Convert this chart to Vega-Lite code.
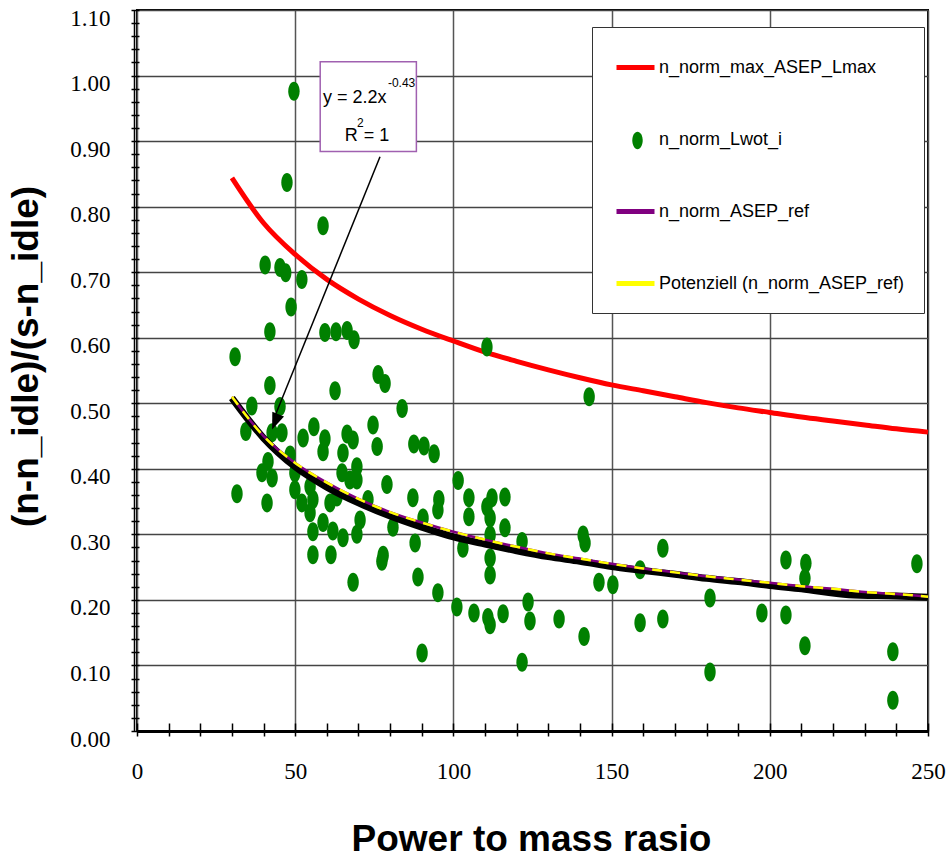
{
  "$schema": "https://vega.github.io/schema/vega-lite/v6.json",
  "width": 791,
  "height": 721,
  "autosize": {"type": "none"},
  "padding": {"left": 137, "top": 10, "right": 18, "bottom": 128},
  "background": "white",
  "config": {"view": {"stroke": "black", "strokeWidth": 2}, "font": "Liberation Sans"},
  "datasets": {
    "red": [
      {"x": 30, "y": 0.844, "series": "n_norm_max_ASEP_Lmax"},
      {"x": 40, "y": 0.775, "series": "n_norm_max_ASEP_Lmax"},
      {"x": 50, "y": 0.727, "series": "n_norm_max_ASEP_Lmax"},
      {"x": 60, "y": 0.689, "series": "n_norm_max_ASEP_Lmax"},
      {"x": 70, "y": 0.659, "series": "n_norm_max_ASEP_Lmax"},
      {"x": 80, "y": 0.634, "series": "n_norm_max_ASEP_Lmax"},
      {"x": 90, "y": 0.613, "series": "n_norm_max_ASEP_Lmax"},
      {"x": 100, "y": 0.595, "series": "n_norm_max_ASEP_Lmax"},
      {"x": 110, "y": 0.578, "series": "n_norm_max_ASEP_Lmax"},
      {"x": 120, "y": 0.564, "series": "n_norm_max_ASEP_Lmax"},
      {"x": 130, "y": 0.551, "series": "n_norm_max_ASEP_Lmax"},
      {"x": 140, "y": 0.539, "series": "n_norm_max_ASEP_Lmax"},
      {"x": 150, "y": 0.528, "series": "n_norm_max_ASEP_Lmax"},
      {"x": 160, "y": 0.519, "series": "n_norm_max_ASEP_Lmax"},
      {"x": 170, "y": 0.510, "series": "n_norm_max_ASEP_Lmax"},
      {"x": 180, "y": 0.501, "series": "n_norm_max_ASEP_Lmax"},
      {"x": 190, "y": 0.493, "series": "n_norm_max_ASEP_Lmax"},
      {"x": 200, "y": 0.486, "series": "n_norm_max_ASEP_Lmax"},
      {"x": 210, "y": 0.479, "series": "n_norm_max_ASEP_Lmax"},
      {"x": 220, "y": 0.473, "series": "n_norm_max_ASEP_Lmax"},
      {"x": 230, "y": 0.467, "series": "n_norm_max_ASEP_Lmax"},
      {"x": 240, "y": 0.461, "series": "n_norm_max_ASEP_Lmax"},
      {"x": 250, "y": 0.456, "series": "n_norm_max_ASEP_Lmax"}
    ],
    "points": [
      {"x": 49.6, "y": 0.976, "series": "n_norm_Lwot_i"},
      {"x": 47.4, "y": 0.837, "series": "n_norm_Lwot_i"},
      {"x": 58.8, "y": 0.771, "series": "n_norm_Lwot_i"},
      {"x": 40.5, "y": 0.711, "series": "n_norm_Lwot_i"},
      {"x": 45.2, "y": 0.707, "series": "n_norm_Lwot_i"},
      {"x": 47.0, "y": 0.699, "series": "n_norm_Lwot_i"},
      {"x": 52.1, "y": 0.689, "series": "n_norm_Lwot_i"},
      {"x": 48.7, "y": 0.647, "series": "n_norm_Lwot_i"},
      {"x": 42.0, "y": 0.609, "series": "n_norm_Lwot_i"},
      {"x": 59.4, "y": 0.608, "series": "n_norm_Lwot_i"},
      {"x": 62.9, "y": 0.609, "series": "n_norm_Lwot_i"},
      {"x": 66.4, "y": 0.611, "series": "n_norm_Lwot_i"},
      {"x": 68.6, "y": 0.597, "series": "n_norm_Lwot_i"},
      {"x": 31.0, "y": 0.571, "series": "n_norm_Lwot_i"},
      {"x": 76.2, "y": 0.544, "series": "n_norm_Lwot_i"},
      {"x": 78.4, "y": 0.530, "series": "n_norm_Lwot_i"},
      {"x": 42.0, "y": 0.527, "series": "n_norm_Lwot_i"},
      {"x": 62.6, "y": 0.519, "series": "n_norm_Lwot_i"},
      {"x": 36.3, "y": 0.496, "series": "n_norm_Lwot_i"},
      {"x": 45.2, "y": 0.495, "series": "n_norm_Lwot_i"},
      {"x": 83.8, "y": 0.492, "series": "n_norm_Lwot_i"},
      {"x": 34.4, "y": 0.457, "series": "n_norm_Lwot_i"},
      {"x": 42.7, "y": 0.455, "series": "n_norm_Lwot_i"},
      {"x": 45.8, "y": 0.455, "series": "n_norm_Lwot_i"},
      {"x": 52.5, "y": 0.447, "series": "n_norm_Lwot_i"},
      {"x": 55.9, "y": 0.464, "series": "n_norm_Lwot_i"},
      {"x": 59.4, "y": 0.446, "series": "n_norm_Lwot_i"},
      {"x": 66.4, "y": 0.453, "series": "n_norm_Lwot_i"},
      {"x": 68.3, "y": 0.444, "series": "n_norm_Lwot_i"},
      {"x": 74.6, "y": 0.467, "series": "n_norm_Lwot_i"},
      {"x": 75.9, "y": 0.434, "series": "n_norm_Lwot_i"},
      {"x": 58.8, "y": 0.426, "series": "n_norm_Lwot_i"},
      {"x": 65.1, "y": 0.424, "series": "n_norm_Lwot_i"},
      {"x": 41.4, "y": 0.411, "series": "n_norm_Lwot_i"},
      {"x": 39.5, "y": 0.394, "series": "n_norm_Lwot_i"},
      {"x": 42.7, "y": 0.386, "series": "n_norm_Lwot_i"},
      {"x": 48.4, "y": 0.421, "series": "n_norm_Lwot_i"},
      {"x": 49.9, "y": 0.394, "series": "n_norm_Lwot_i"},
      {"x": 69.5, "y": 0.403, "series": "n_norm_Lwot_i"},
      {"x": 64.8, "y": 0.394, "series": "n_norm_Lwot_i"},
      {"x": 67.3, "y": 0.383, "series": "n_norm_Lwot_i"},
      {"x": 69.5, "y": 0.383, "series": "n_norm_Lwot_i"},
      {"x": 79.0, "y": 0.376, "series": "n_norm_Lwot_i"},
      {"x": 31.6, "y": 0.362, "series": "n_norm_Lwot_i"},
      {"x": 41.1, "y": 0.348, "series": "n_norm_Lwot_i"},
      {"x": 49.9, "y": 0.368, "series": "n_norm_Lwot_i"},
      {"x": 54.7, "y": 0.373, "series": "n_norm_Lwot_i"},
      {"x": 52.1, "y": 0.348, "series": "n_norm_Lwot_i"},
      {"x": 55.6, "y": 0.353, "series": "n_norm_Lwot_i"},
      {"x": 61.0, "y": 0.348, "series": "n_norm_Lwot_i"},
      {"x": 63.2, "y": 0.357, "series": "n_norm_Lwot_i"},
      {"x": 73.0, "y": 0.353, "series": "n_norm_Lwot_i"},
      {"x": 54.7, "y": 0.333, "series": "n_norm_Lwot_i"},
      {"x": 58.8, "y": 0.318, "series": "n_norm_Lwot_i"},
      {"x": 70.5, "y": 0.322, "series": "n_norm_Lwot_i"},
      {"x": 80.9, "y": 0.311, "series": "n_norm_Lwot_i"},
      {"x": 55.6, "y": 0.304, "series": "n_norm_Lwot_i"},
      {"x": 61.9, "y": 0.305, "series": "n_norm_Lwot_i"},
      {"x": 65.1, "y": 0.295, "series": "n_norm_Lwot_i"},
      {"x": 69.5, "y": 0.300, "series": "n_norm_Lwot_i"},
      {"x": 55.6, "y": 0.269, "series": "n_norm_Lwot_i"},
      {"x": 61.3, "y": 0.269, "series": "n_norm_Lwot_i"},
      {"x": 68.3, "y": 0.227, "series": "n_norm_Lwot_i"},
      {"x": 77.4, "y": 0.259, "series": "n_norm_Lwot_i"},
      {"x": 77.8, "y": 0.268, "series": "n_norm_Lwot_i"},
      {"x": 110.6, "y": 0.586, "series": "n_norm_Lwot_i"},
      {"x": 142.9, "y": 0.510, "series": "n_norm_Lwot_i"},
      {"x": 87.5, "y": 0.438, "series": "n_norm_Lwot_i"},
      {"x": 90.7, "y": 0.435, "series": "n_norm_Lwot_i"},
      {"x": 93.9, "y": 0.423, "series": "n_norm_Lwot_i"},
      {"x": 101.5, "y": 0.382, "series": "n_norm_Lwot_i"},
      {"x": 87.2, "y": 0.356, "series": "n_norm_Lwot_i"},
      {"x": 95.4, "y": 0.353, "series": "n_norm_Lwot_i"},
      {"x": 95.1, "y": 0.337, "series": "n_norm_Lwot_i"},
      {"x": 104.9, "y": 0.356, "series": "n_norm_Lwot_i"},
      {"x": 104.9, "y": 0.327, "series": "n_norm_Lwot_i"},
      {"x": 110.6, "y": 0.342, "series": "n_norm_Lwot_i"},
      {"x": 112.2, "y": 0.356, "series": "n_norm_Lwot_i"},
      {"x": 116.3, "y": 0.357, "series": "n_norm_Lwot_i"},
      {"x": 111.6, "y": 0.325, "series": "n_norm_Lwot_i"},
      {"x": 116.3, "y": 0.310, "series": "n_norm_Lwot_i"},
      {"x": 90.4, "y": 0.325, "series": "n_norm_Lwot_i"},
      {"x": 87.9, "y": 0.287, "series": "n_norm_Lwot_i"},
      {"x": 103.0, "y": 0.279, "series": "n_norm_Lwot_i"},
      {"x": 111.6, "y": 0.299, "series": "n_norm_Lwot_i"},
      {"x": 121.7, "y": 0.289, "series": "n_norm_Lwot_i"},
      {"x": 141.0, "y": 0.299, "series": "n_norm_Lwot_i"},
      {"x": 141.6, "y": 0.287, "series": "n_norm_Lwot_i"},
      {"x": 111.6, "y": 0.264, "series": "n_norm_Lwot_i"},
      {"x": 111.6, "y": 0.238, "series": "n_norm_Lwot_i"},
      {"x": 88.8, "y": 0.235, "series": "n_norm_Lwot_i"},
      {"x": 95.1, "y": 0.211, "series": "n_norm_Lwot_i"},
      {"x": 101.1, "y": 0.189, "series": "n_norm_Lwot_i"},
      {"x": 106.5, "y": 0.180, "series": "n_norm_Lwot_i"},
      {"x": 110.9, "y": 0.173, "series": "n_norm_Lwot_i"},
      {"x": 111.6, "y": 0.162, "series": "n_norm_Lwot_i"},
      {"x": 115.7, "y": 0.179, "series": "n_norm_Lwot_i"},
      {"x": 123.6, "y": 0.197, "series": "n_norm_Lwot_i"},
      {"x": 124.2, "y": 0.168, "series": "n_norm_Lwot_i"},
      {"x": 133.4, "y": 0.171, "series": "n_norm_Lwot_i"},
      {"x": 141.3, "y": 0.144, "series": "n_norm_Lwot_i"},
      {"x": 146.0, "y": 0.227, "series": "n_norm_Lwot_i"},
      {"x": 90.1, "y": 0.119, "series": "n_norm_Lwot_i"},
      {"x": 121.7, "y": 0.105, "series": "n_norm_Lwot_i"},
      {"x": 150.4, "y": 0.223, "series": "n_norm_Lwot_i"},
      {"x": 159.0, "y": 0.246, "series": "n_norm_Lwot_i"},
      {"x": 166.2, "y": 0.279, "series": "n_norm_Lwot_i"},
      {"x": 159.0, "y": 0.165, "series": "n_norm_Lwot_i"},
      {"x": 166.2, "y": 0.171, "series": "n_norm_Lwot_i"},
      {"x": 181.1, "y": 0.203, "series": "n_norm_Lwot_i"},
      {"x": 181.1, "y": 0.090, "series": "n_norm_Lwot_i"},
      {"x": 197.5, "y": 0.180, "series": "n_norm_Lwot_i"},
      {"x": 205.1, "y": 0.261, "series": "n_norm_Lwot_i"},
      {"x": 205.1, "y": 0.177, "series": "n_norm_Lwot_i"},
      {"x": 211.4, "y": 0.256, "series": "n_norm_Lwot_i"},
      {"x": 211.1, "y": 0.233, "series": "n_norm_Lwot_i"},
      {"x": 211.1, "y": 0.130, "series": "n_norm_Lwot_i"},
      {"x": 238.9, "y": 0.121, "series": "n_norm_Lwot_i"},
      {"x": 246.5, "y": 0.255, "series": "n_norm_Lwot_i"},
      {"x": 238.9, "y": 0.047, "series": "n_norm_Lwot_i"}
    ],
    "black": [
      {"x": 30, "y": 0.508}, {"x": 40, "y": 0.447}, {"x": 50, "y": 0.403},
      {"x": 60, "y": 0.372}, {"x": 70, "y": 0.348}, {"x": 80, "y": 0.328},
      {"x": 90, "y": 0.311}, {"x": 100, "y": 0.296}, {"x": 110, "y": 0.285},
      {"x": 120, "y": 0.275}, {"x": 130, "y": 0.266}, {"x": 140, "y": 0.259},
      {"x": 150, "y": 0.251}, {"x": 160, "y": 0.245}, {"x": 170, "y": 0.239},
      {"x": 180, "y": 0.233}, {"x": 190, "y": 0.228}, {"x": 200, "y": 0.222},
      {"x": 210, "y": 0.217}, {"x": 225, "y": 0.208}, {"x": 240, "y": 0.206},
      {"x": 250, "y": 0.204}
    ],
    "purple": [
      {"x": 30, "y": 0.510, "series": "n_norm_ASEP_ref"},
      {"x": 40, "y": 0.450, "series": "n_norm_ASEP_ref"},
      {"x": 50, "y": 0.409, "series": "n_norm_ASEP_ref"},
      {"x": 60, "y": 0.379, "series": "n_norm_ASEP_ref"},
      {"x": 70, "y": 0.354, "series": "n_norm_ASEP_ref"},
      {"x": 80, "y": 0.334, "series": "n_norm_ASEP_ref"},
      {"x": 90, "y": 0.318, "series": "n_norm_ASEP_ref"},
      {"x": 100, "y": 0.304, "series": "n_norm_ASEP_ref"},
      {"x": 110, "y": 0.292, "series": "n_norm_ASEP_ref"},
      {"x": 120, "y": 0.281, "series": "n_norm_ASEP_ref"},
      {"x": 130, "y": 0.271, "series": "n_norm_ASEP_ref"},
      {"x": 140, "y": 0.263, "series": "n_norm_ASEP_ref"},
      {"x": 150, "y": 0.255, "series": "n_norm_ASEP_ref"},
      {"x": 160, "y": 0.248, "series": "n_norm_ASEP_ref"},
      {"x": 170, "y": 0.242, "series": "n_norm_ASEP_ref"},
      {"x": 180, "y": 0.236, "series": "n_norm_ASEP_ref"},
      {"x": 190, "y": 0.231, "series": "n_norm_ASEP_ref"},
      {"x": 200, "y": 0.226, "series": "n_norm_ASEP_ref"},
      {"x": 210, "y": 0.221, "series": "n_norm_ASEP_ref"},
      {"x": 220, "y": 0.217, "series": "n_norm_ASEP_ref"},
      {"x": 230, "y": 0.212, "series": "n_norm_ASEP_ref"},
      {"x": 240, "y": 0.209, "series": "n_norm_ASEP_ref"},
      {"x": 250, "y": 0.205, "series": "n_norm_ASEP_ref"}
    ],
    "yellow": [
      {"x": 30, "y": 0.510, "series": "Potenziell (n_norm_ASEP_ref)"},
      {"x": 40, "y": 0.450, "series": "Potenziell (n_norm_ASEP_ref)"},
      {"x": 50, "y": 0.409, "series": "Potenziell (n_norm_ASEP_ref)"},
      {"x": 60, "y": 0.379, "series": "Potenziell (n_norm_ASEP_ref)"},
      {"x": 70, "y": 0.354, "series": "Potenziell (n_norm_ASEP_ref)"},
      {"x": 80, "y": 0.334, "series": "Potenziell (n_norm_ASEP_ref)"},
      {"x": 90, "y": 0.318, "series": "Potenziell (n_norm_ASEP_ref)"},
      {"x": 100, "y": 0.304, "series": "Potenziell (n_norm_ASEP_ref)"},
      {"x": 110, "y": 0.292, "series": "Potenziell (n_norm_ASEP_ref)"},
      {"x": 120, "y": 0.281, "series": "Potenziell (n_norm_ASEP_ref)"},
      {"x": 130, "y": 0.271, "series": "Potenziell (n_norm_ASEP_ref)"},
      {"x": 140, "y": 0.263, "series": "Potenziell (n_norm_ASEP_ref)"},
      {"x": 150, "y": 0.255, "series": "Potenziell (n_norm_ASEP_ref)"},
      {"x": 160, "y": 0.248, "series": "Potenziell (n_norm_ASEP_ref)"},
      {"x": 170, "y": 0.242, "series": "Potenziell (n_norm_ASEP_ref)"},
      {"x": 180, "y": 0.236, "series": "Potenziell (n_norm_ASEP_ref)"},
      {"x": 190, "y": 0.231, "series": "Potenziell (n_norm_ASEP_ref)"},
      {"x": 200, "y": 0.226, "series": "Potenziell (n_norm_ASEP_ref)"},
      {"x": 210, "y": 0.221, "series": "Potenziell (n_norm_ASEP_ref)"},
      {"x": 220, "y": 0.217, "series": "Potenziell (n_norm_ASEP_ref)"},
      {"x": 230, "y": 0.212, "series": "Potenziell (n_norm_ASEP_ref)"},
      {"x": 240, "y": 0.209, "series": "Potenziell (n_norm_ASEP_ref)"},
      {"x": 250, "y": 0.205, "series": "Potenziell (n_norm_ASEP_ref)"}
    ],
    "box": [{"x": 57.9, "x2": 88.3, "y": 1.021, "y2": 0.884}],
    "eqMain": [
      {"x": 58.8, "y": 0.958, "t": "y = 2.2x"},
      {"x": 65.7, "y": 0.9, "t": "R"},
      {"x": 71.7, "y": 0.9, "t": "= 1"}
    ],
    "eqSup": [
      {"x": 79.3, "y": 0.982, "t": "-0.43"},
      {"x": 69.5, "y": 0.922, "t": "2"}
    ],
    "arrow": [{"x": 76.8, "y": 0.876, "x2": 43.4, "y2": 0.478}],
    "arrowHead": [{"x": 42.7, "y": 0.46}]
  },
  "resolve": {"axis": {"x": "independent", "y": "independent"}},
  "layer": [
    {
      "data": {"name": "red"},
      "mark": {"type": "line", "strokeWidth": 5, "interpolate": "monotone"},
      "encoding": {
        "x": {
          "field": "x", "type": "quantitative",
          "scale": {"domain": [0, 250], "nice": false, "zero": true},
          "axis": {
            "orient": "bottom", "values": [0, 50, 100, 150, 200, 250],
            "grid": true, "gridColor": "#555555", "gridWidth": 1.5,
            "ticks": false, "tickSize": 0,
            "domain": true, "domainColor": "black", "domainWidth": 3,
            "labelFont": "Liberation Serif", "labelFontSize": 23, "labelColor": "black",
            "labelPadding": 29, "labelFlush": false, "labelOverlap": false,
            "title": "Power to mass rasio", "titleFont": "Liberation Sans", "titleFontSize": 37,
            "titleFontWeight": "bold", "titleColor": "black", "titleX": 394, "titleY": 119,
            "titleAlign": "center", "titleBaseline": "alphabetic"
          }
        },
        "y": {
          "field": "y", "type": "quantitative",
          "scale": {"domain": [0, 1.1], "nice": false, "zero": true},
          "axis": {
            "orient": "left", "offset": 3,
            "values": [0, 0.1, 0.2, 0.3, 0.4, 0.5, 0.6, 0.7, 0.8, 0.9, 1.0, 1.1],
            "format": ".2f",
            "grid": true, "gridColor": "#444444", "gridWidth": 1.5,
            "ticks": false, "tickSize": 0,
            "domain": true, "domainColor": "black", "domainWidth": 1.5,
            "labelFont": "Liberation Serif", "labelFontSize": 23, "labelColor": "black",
            "labelPadding": 24, "labelBaseline": "middle", "labelOffset": 8,
            "labelFlush": false, "labelOverlap": false,
            "title": "(n-n_idle)/(s-n_idle)", "titleFont": "Liberation Sans", "titleFontSize": 37,
            "titleFontWeight": "bold", "titleColor": "black", "titleX": -107.5, "titleY": 346,
            "titleAngle": 270, "titleAlign": "center", "titleBaseline": "middle"
          }
        },
        "color": {
          "field": "series", "type": "nominal",
          "scale": {
            "domain": ["n_norm_max_ASEP_Lmax", "n_norm_Lwot_i", "n_norm_ASEP_ref", "Potenziell (n_norm_ASEP_ref)"],
            "range": ["#ff0000", "transparent", "#800080", "#ffff00"]
          },
          "legend": {
            "title": null, "orient": "none", "legendX": 455, "legendY": 17, "direction": "vertical",
            "fillColor": "white", "strokeColor": "#333333",
            "padding": 19, "rowPadding": 40, "symbolOffset": 3,
            "labelFont": "Liberation Sans", "labelFontSize": 18, "labelColor": "black",
            "labelLimit": 400, "labelOffset": 2,
            "symbolType": "stroke", "symbolSize": 1444, "symbolStrokeWidth": 5, "symbolOpacity": 1
          }
        }
      }
    },
    {
      "data": {"name": "points"},
      "mark": {"type": "point", "filled": true, "opacity": 1, "size": 361, "color": "#008000"},
      "encoding": {
        "x": {
          "field": "x", "type": "quantitative",
          "axis": {
            "orient": "bottom", "values": [0, 10, 20, 30, 40, 50, 60, 70, 80, 90, 100, 110, 120, 130, 140, 150, 160, 170, 180, 190, 200, 210, 220, 230, 240, 250],
            "grid": false, "labels": false, "domain": false, "ticks": true, "tickSize": 13,
            "tickColor": "black", "tickWidth": 1.5, "offset": -8, "title": null, "zindex": 1
          }
        },
        "y": {
          "field": "y", "type": "quantitative",
          "axis": {
            "orient": "left",
            "values": [0, 0.02, 0.04, 0.06, 0.08, 0.1, 0.12, 0.14, 0.16, 0.18, 0.2, 0.22, 0.24, 0.26, 0.28, 0.3, 0.32, 0.34, 0.36, 0.38, 0.4, 0.42, 0.44, 0.46, 0.48, 0.5, 0.52, 0.54, 0.56, 0.58, 0.6, 0.62, 0.64, 0.66, 0.68, 0.7, 0.72, 0.74, 0.76, 0.78, 0.8, 0.82, 0.84, 0.86, 0.88, 0.9, 0.92, 0.94, 0.96, 0.98, 1.0, 1.02, 1.04, 1.06, 1.08, 1.1],
            "grid": false, "labels": false, "domain": false, "ticks": true, "tickSize": 8,
            "tickColor": "black", "tickWidth": 1.5, "offset": -2, "title": null, "zindex": 1
          }
        },
        "shape": {
          "field": "series", "type": "nominal",
          "scale": {"domain": ["n_norm_Lwot_i"], "range": ["M-0.6,0A0.6,1 0 1,0 0.6,0A0.6,1 0 1,0 -0.6,0Z"]},
          "legend": {
            "title": null, "orient": "none", "legendX": 491, "legendY": 121, "padding": 0,
            "labelExpr": "''", "labelFontSize": 1, "symbolSize": 300,
            "symbolFillColor": "#008000", "symbolStrokeColor": "transparent", "symbolOpacity": 1
          }
        }
      }
    },
    {
      "data": {"name": "black"},
      "mark": {"type": "line", "strokeWidth": 7, "color": "black", "interpolate": "monotone"},
      "encoding": {
        "x": {"field": "x", "type": "quantitative", "axis": null},
        "y": {"field": "y", "type": "quantitative", "axis": null}
      }
    },
    {
      "data": {"name": "purple"},
      "mark": {"type": "line", "strokeWidth": 2.5, "interpolate": "monotone"},
      "encoding": {
        "x": {"field": "x", "type": "quantitative", "axis": null},
        "y": {"field": "y", "type": "quantitative", "axis": null},
        "color": {"field": "series", "type": "nominal"}
      }
    },
    {
      "data": {"name": "yellow"},
      "mark": {"type": "line", "strokeWidth": 2.5, "strokeDash": [10, 8], "interpolate": "monotone"},
      "encoding": {
        "x": {"field": "x", "type": "quantitative", "axis": null},
        "y": {"field": "y", "type": "quantitative", "axis": null},
        "color": {"field": "series", "type": "nominal"}
      }
    },
    {
      "data": {"name": "box"},
      "mark": {"type": "rect", "fill": "white", "stroke": "#a060b0", "strokeWidth": 1.5},
      "encoding": {
        "x": {"field": "x", "type": "quantitative", "axis": null},
        "x2": {"field": "x2"},
        "y": {"field": "y", "type": "quantitative", "axis": null},
        "y2": {"field": "y2"}
      }
    },
    {
      "data": {"name": "eqMain"},
      "mark": {"type": "text", "align": "left", "baseline": "alphabetic", "fontSize": 18, "font": "Liberation Sans", "color": "black"},
      "encoding": {
        "x": {"field": "x", "type": "quantitative", "axis": null},
        "y": {"field": "y", "type": "quantitative", "axis": null},
        "text": {"field": "t"}
      }
    },
    {
      "data": {"name": "eqSup"},
      "mark": {"type": "text", "align": "left", "baseline": "alphabetic", "fontSize": 12, "font": "Liberation Sans", "color": "black"},
      "encoding": {
        "x": {"field": "x", "type": "quantitative", "axis": null},
        "y": {"field": "y", "type": "quantitative", "axis": null},
        "text": {"field": "t"}
      }
    },
    {
      "data": {"name": "arrow"},
      "mark": {"type": "rule", "color": "black", "strokeWidth": 1.5},
      "encoding": {
        "x": {"field": "x", "type": "quantitative", "axis": null},
        "x2": {"field": "x2"},
        "y": {"field": "y", "type": "quantitative", "axis": null},
        "y2": {"field": "y2"}
      }
    },
    {
      "data": {"name": "arrowHead"},
      "mark": {"type": "point", "filled": true, "color": "black", "opacity": 1, "size": 900, "angle": 201.6, "shape": "M0,0L-0.42,1.1L0.42,1.1Z"},
      "encoding": {
        "x": {"field": "x", "type": "quantitative", "axis": null},
        "y": {"field": "y", "type": "quantitative", "axis": null}
      }
    }
  ]
}
